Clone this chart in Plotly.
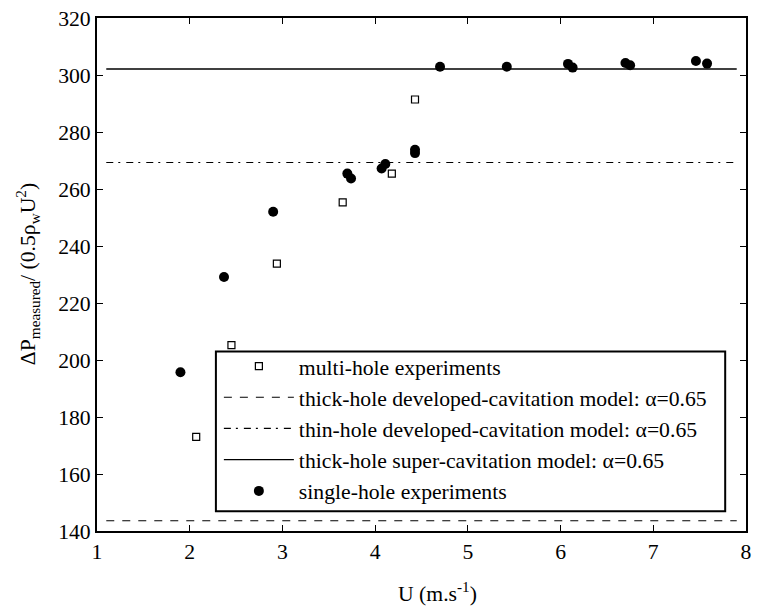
import plotly.graph_objects as go

# Data
single_u = [1.90, 2.37, 2.90, 3.70, 3.74, 4.07, 4.11, 4.43, 4.43, 4.70, 5.42, 6.08, 6.13, 6.70, 6.75, 7.46, 7.58]
single_dp = [195.7, 229.1, 252.0, 265.4, 263.7, 267.2, 268.8, 273.8, 272.6, 302.9, 302.9, 303.9, 302.6, 304.2, 303.4, 304.9, 304.0]

multi_u = [2.07, 2.45, 2.94, 3.65, 4.18, 4.43]
multi_dp = [173.0, 205.2, 233.8, 255.3, 265.4, 291.4]

model_u = [1.1, 7.9]
thick_developed = 143.6
thin_developed = 269.3
thick_super = 302.1

FONT = "Liberation Serif"
FS = 21.7

# plot area in pixels (for layout placement only)
PL, PR, PT, PB = 97, 752, 14, 531
PW, PH = PR - PL, PB - PT


def px_x(p):
    return (p - PL) / PW


def px_y(p):
    return (PB - p) / PH


fig = go.Figure()
fig.add_trace(go.Scatter(
    x=multi_u, y=multi_dp, mode="markers", name="multi-hole experiments",
    marker=dict(symbol="square-open", size=7, color="black", line=dict(width=1.2, color="black")),
))
fig.add_trace(go.Scatter(
    x=model_u, y=[thick_developed] * 2, mode="lines",
    name="thick-hole developed-cavitation model: α=0.65",
    line=dict(color="black", width=1.2, dash="8px,8px"),
))
fig.add_trace(go.Scatter(
    x=model_u, y=[thin_developed] * 2, mode="lines",
    name="thin-hole developed-cavitation model: α=0.65",
    line=dict(color="black", width=1.2, dash="7px,5px,2px,6px"),
))
fig.add_trace(go.Scatter(
    x=model_u, y=[thick_super] * 2, mode="lines",
    name="thick-hole super-cavitation model: α=0.65",
    line=dict(color="black", width=1.3),
))
fig.add_trace(go.Scatter(
    x=single_u, y=single_dp, mode="markers", name="single-hole experiments",
    marker=dict(symbol="circle", size=10, color="black"),
))

axis_common = dict(
    showgrid=False, zeroline=False, showline=True, linecolor="black", linewidth=2,
    mirror="allticks", ticks="inside", ticklen=6, tickwidth=1.2, tickcolor="black",
    tickfont=dict(family=FONT, size=FS, color="black"),
)

fig.update_layout(
    width=759, height=610,
    margin=dict(l=PL, r=759 - PR, t=PT, b=610 - PB),
    paper_bgcolor="white", plot_bgcolor="white",
    font=dict(family=FONT, size=FS, color="black"),
    xaxis=dict(range=[1, 8], dtick=1, tick0=1, **axis_common),
    yaxis=dict(range=[140, 320], dtick=20, tick0=140, **axis_common),
    showlegend=True,
    legend=dict(
        x=px_x(220), y=px_y(344), xanchor="left", yanchor="top",
        bgcolor="rgba(0,0,0,0)", borderwidth=0,
        font=dict(family=FONT, size=FS, color="black"),
        itemwidth=70,
    ),
    shapes=[
        dict(type="rect", xref="paper", yref="paper",
             x0=px_x(217), x1=px_x(731), y0=px_y(511), y1=px_y(350),
             line=dict(color="black", width=2), fillcolor="white", layer="above"),
    ],
    annotations=[
        dict(text="U (m.s<sup>-1</sup>)", xref="paper", yref="paper",
             x=px_x(441), y=0, yshift=-61, xanchor="center", yanchor="middle",
             showarrow=False, font=dict(family=FONT, size=FS, color="black")),
        dict(text="ΔP<sub>measured</sub>/ (0.5ρ<sub>w</sub>U<sup>2</sup>)", xref="paper", yref="paper",
             x=px_x(27), y=0.5, xanchor="center", yanchor="middle", textangle=-90,
             showarrow=False, font=dict(family=FONT, size=FS, color="black")),
    ],
)

fig.write_html("out.html")
